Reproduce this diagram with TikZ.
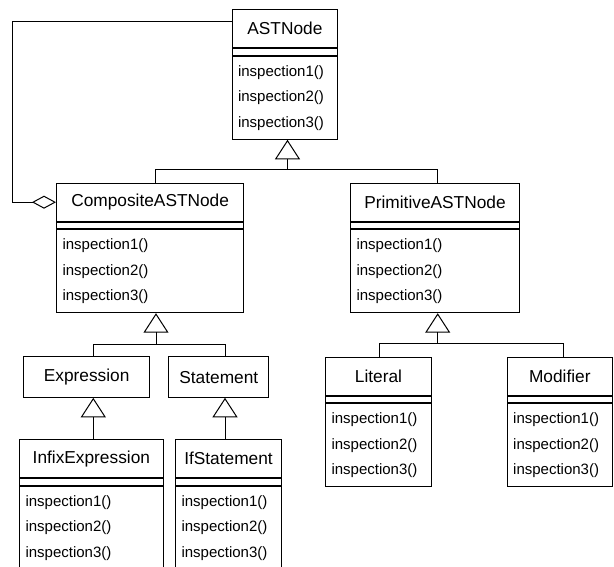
\documentclass[tikz,border=0pt]{standalone}
\usepackage{fontspec}
\setmainfont{Liberation Sans}
\usetikzlibrary{arrows.meta}

% A UML class: name compartment, empty attribute compartment, operations
% #1 node name, #2 left x, #3 top y, #4 width, #5 class name
\newcommand{\umlclass}[5]{%
  \pgfmathsetmacro{\opswidth}{#4-12}%
  \node[namebox, minimum width=#4pt, anchor=north west] (#1) at (#2,#3) {#5};
  \node[attrbox, minimum width=#4pt, anchor=north] (#1-a) at (#1.south) {};
  \node[opsbox, text width=\opswidth pt, anchor=north] (#1-o) at (#1-a.south)
    {inspection1()\\inspection2()\\inspection3()};
}

\begin{document}
\begin{tikzpicture}[x=1pt,y=-1pt,
  line width=1pt,
  namebox/.style={draw, rectangle, inner sep=0pt, minimum height=38pt,
    font=\fontsize{17.3}{20}\selectfont},
  attrbox/.style={draw, rectangle, inner sep=0pt, minimum height=6.5pt},
  opsbox/.style={draw, rectangle, inner ysep=0pt, inner xsep=6pt,
    minimum height=83pt, align=left, font=\fontsize{15}{25.5}\selectfont},
  inherit/.style={-{Triangle[open,length=19.5pt,width=25pt]}},
  aggr/.style={-{Diamond[open,length=24pt,width=13pt]}},
]
\useasboundingbox (0,0) rectangle (614,566);
\clip (0,0) rectangle (614,566);

% classes
\umlclass{ast}{231.5}{9.3}{105.8}{ASTNode}
\umlclass{comp}{56}{182.7}{187.3}{CompositeASTNode}
\umlclass{prim}{350}{182.7}{169}{PrimitiveASTNode}
\node[namebox, minimum width=125.7pt, minimum height=40.5pt, anchor=north west]
  (expr) at (23.3,356.3) {Expression};
\node[namebox, minimum width=100pt, minimum height=40.5pt, anchor=north west]
  (stmt) at (168.3,356.3) {Statement};
\umlclass{infix}{19}{439.3}{143.7}{InfixExpression}
\umlclass{ifst}{175}{439.3}{106}{IfStatement}
\umlclass{lit}{325}{356.7}{106}{Literal}
\umlclass{mod}{506.7}{356.7}{105.3}{Modifier}

% ASTNode generalisation
\coordinate (t1) at (287.5,169.3);
\coordinate (t1l) at (155,169.3);
\coordinate (t1r) at (437.7,169.3);
\draw[inherit] (t1) -- (t1 |- ast-o.south);
\draw (t1l |- comp.north) -- (t1l) -- (t1r) -- (t1r |- prim.north);

% CompositeASTNode generalisation
\coordinate (t2) at (156,344);
\coordinate (t2l) at (93.3,344);
\coordinate (t2r) at (225,344);
\draw[inherit] (t2) -- (t2 |- comp-o.south);
\draw (t2l |- expr.north) -- (t2l) -- (t2r) -- (t2r |- stmt.north);

% Expression and Statement subclasses
\coordinate (t3) at (93.3,0);
\draw[inherit] (t3 |- infix.north) -- (t3 |- expr.south);
\coordinate (t4) at (225,0);
\draw[inherit] (t4 |- ifst.north) -- (t4 |- stmt.south);

% PrimitiveASTNode generalisation
\coordinate (t5) at (437.7,343.3);
\coordinate (t5l) at (379,343.3);
\coordinate (t5r) at (563.3,343.3);
\draw[inherit] (t5) -- (t5 |- prim-o.south);
\draw (t5l |- lit.north) -- (t5l) -- (t5r) -- (t5r |- mod.north);

% aggregation: CompositeASTNode holds ASTNodes
\coordinate (g) at (12.7,21.7);
\draw[aggr] (g -| ast.west) -- (g) |- (comp.west);
\end{tikzpicture}
\end{document}
